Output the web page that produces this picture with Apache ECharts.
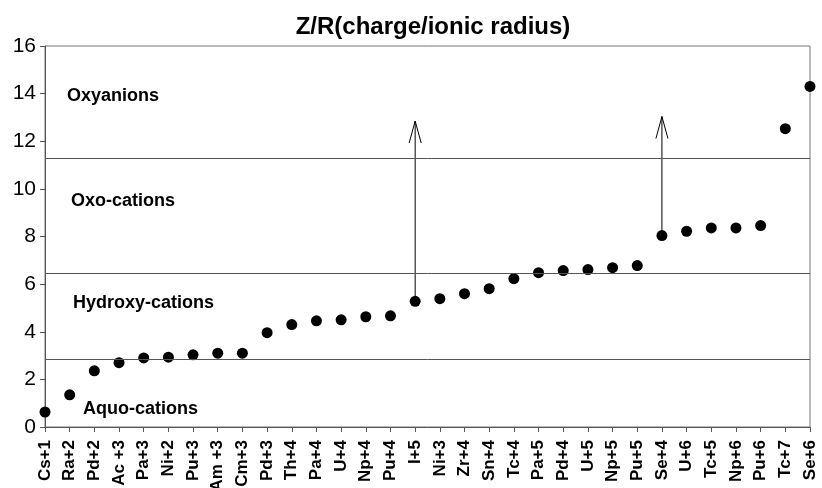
<!DOCTYPE html>
<html>
<head>
<meta charset="utf-8">
<script src="https://cdn.jsdelivr.net/npm/echarts@6/dist/echarts.min.js"></script>
<style>
  html, body { margin: 0; padding: 0; background: #fff; }
  #chart { width: 822px; height: 488px; }
</style>
</head>
<body>
<div id="chart"></div>
<script>
const ions = [
  "Cs+1", "Ra+2", "Pd+2", "Ac +3", "Pa+3", "Ni+2", "Pu+3", "Am +3", "Cm+3", "Pd+3",
  "Th+4", "Pa+4", "U+4", "Np+4", "Pu+4", "I+5", "Ni+3", "Zr+4", "Sn+4", "Tc+4",
  "Pa+5", "Pd+4", "U+5", "Np+5", "Pu+5", "Se+4", "U+6", "Tc+5", "Np+6", "Pu+6",
  "Tc+7", "Se+6",
];
const zr = [
  0.63, 1.35, 2.36, 2.7, 2.9, 2.93, 3.03, 3.1, 3.1, 3.96,
  4.3, 4.46, 4.5, 4.63, 4.67, 5.28, 5.39, 5.6, 5.81, 6.23,
  6.48, 6.57, 6.61, 6.69, 6.78, 8.04, 8.22, 8.36, 8.36, 8.46,
  12.53, 14.3,
];
// region boundaries
const boundaries = [2.86, 6.45, 11.28];
// arrows: [category index, from, to]
const arrows = [
  [15, 5.28, 12.85],
  [25, 8.04, 13.04],
];
const regionNames = ["Oxyanions", "Oxo-cations", "Hydroxy-cations", "Aquo-cations"];

const chart = echarts.init(document.getElementById("chart"));
const font = "Arial, 'Liberation Sans', sans-serif";

chart.setOption({
  animation: false,
  title: {
    text: "Z/R(charge/ionic radius)",
    left: 428,
    textAlign: "center",
    top: 10,
    textStyle: { fontFamily: font, fontSize: 24, fontWeight: "bold", color: "#000" },
  },
  grid: {
    left: 45,
    right: 12,
    top: 46,
    bottom: 61,
    outerBoundsMode: "none",
    show: true,
    borderColor: "#777",
    borderWidth: 1,
  },
  xAxis: {
    type: "category",
    data: ions,
    boundaryGap: false,
    axisLine: { lineStyle: { color: "#555", width: 1 } },
    axisTick: { alignWithLabel: true, length: 5, lineStyle: { color: "#555" } },
    axisLabel: {
      rotate: 90,
      interval: 0,
      margin: 13,
      fontFamily: font,
      fontSize: 17,
      fontWeight: "bold",
      color: "#000",
    },
    splitLine: { show: false },
  },
  yAxis: {
    type: "value",
    min: 0,
    max: 16,
    interval: 2,
    axisLine: { show: true, lineStyle: { color: "#555", width: 1 } },
    axisTick: { show: true, length: 5, lineStyle: { color: "#555" } },
    axisLabel: { fontFamily: font, fontSize: 21, color: "#000", margin: 9 },
    splitLine: { show: false },
  },
  graphic: [
    { type: "text", left: 67, top: 87, style: { text: regionNames[0], font: "bold 18px " + font, fill: "#000" } },
    { type: "text", left: 71, top: 192, style: { text: regionNames[1], font: "bold 18px " + font, fill: "#000" } },
    { type: "text", left: 73, top: 294, style: { text: regionNames[2], font: "bold 18px " + font, fill: "#000" } },
    { type: "text", left: 83, top: 400, style: { text: regionNames[3], font: "bold 18px " + font, fill: "#000" } },
  ],
  series: [
    {
      type: "custom",
      data: arrows,
      z: 3,
      renderItem: function (params, api) {
        const a = api.coord([api.value(0), api.value(1)]);
        const b = api.coord([api.value(0), api.value(2)]);
        const style = { stroke: "#000", lineWidth: 1, fill: null };
        return {
          type: "group",
          children: [
            { type: "line", shape: { x1: a[0], y1: a[1], x2: b[0], y2: b[1] }, style: style },
            {
              type: "polyline",
              shape: { points: [[b[0] - 6, b[1] + 22], [b[0], b[1]], [b[0] + 6, b[1] + 22]] },
              style: style,
            },
          ],
        };
      },
    },
    {
      type: "scatter",
      data: zr,
      symbol: "circle",
      symbolSize: 11,
      z: 4,
      itemStyle: { color: "#000", opacity: 1 },
      markLine: {
        silent: true,
        symbol: "none",
        label: { show: false },
        lineStyle: { color: "#555", width: 1, type: "solid" },
        data: boundaries.map((v) => ({ yAxis: v })),
      },
    },
  ],
});
</script>
</body>
</html>
